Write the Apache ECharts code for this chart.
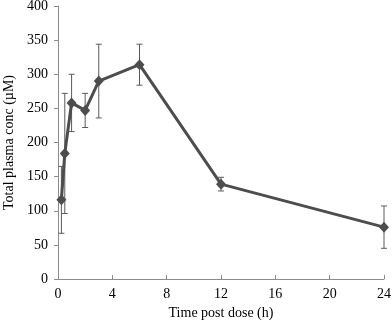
<!DOCTYPE html>
<html>
<head>
<meta charset="utf-8">
<script src="https://cdn.jsdelivr.net/npm/echarts@6/dist/echarts.min.js"></script>
<style>
  html, body { margin: 0; padding: 0; background: #fff; }
  #chart { width: 392px; height: 323px; }
</style>
</head>
<body>
<div id="chart"></div>
<script>
// 时间点 (h)
var timePoints = [0.25, 0.5, 1, 2, 3, 6, 12, 24];
// 平均浓度 (µM)
var meanConc = [116, 184, 258, 247, 290, 314, 139, 76];
// 误差 (±)
var errConc = [49, 88, 42, 25, 54, 30, 10, 31];
var xTicks = [0, 4, 8, 12, 16, 20, 24];
var yTicks = [0, 50, 100, 150, 200, 250, 300, 350, 400];

var lineData = timePoints.map(function (t, i) { return [t, meanConc[i]]; });
var errData = timePoints.map(function (t, i) {
  return [t, meanConc[i] - errConc[i], meanConc[i] + errConc[i]];
});

var chart = echarts.init(document.getElementById('chart'));
var font = 'Liberation Serif';

var option = {
  backgroundColor: '#fff',
  animation: false,
  grid: { left: 58, right: 8, top: 6, bottom: 44, containLabel: false, outerBoundsMode: 'none' },
  xAxis: {
    type: 'value',
    min: xTicks[0], max: xTicks[xTicks.length - 1], interval: 4,
    name: 'Time post dose (h)',
    nameLocation: 'middle',
    nameGap: 25,
    nameTextStyle: { fontFamily: font, fontSize: 14, color: '#000' },
    axisLine: { show: true, lineStyle: { color: '#8c8c8c', width: 1 } },
    axisTick: { show: true, inside: true, length: 4, lineStyle: { color: '#8c8c8c' } },
    axisLabel: { fontFamily: font, fontSize: 14, color: '#000', margin: 8 },
    splitLine: { show: false }
  },
  yAxis: {
    type: 'value',
    min: yTicks[0], max: yTicks[yTicks.length - 1], interval: 50,
    name: 'Total plasma conc (µM)',
    nameLocation: 'middle',
    nameGap: 42,
    nameTextStyle: { fontFamily: font, fontSize: 14, color: '#000' },
    axisLine: { show: true, lineStyle: { color: '#8c8c8c', width: 1 } },
    axisTick: { show: true, length: 4, lineStyle: { color: '#8c8c8c' } },
    axisLabel: { fontFamily: font, fontSize: 14, color: '#000', margin: 10 },
    splitLine: { show: false }
  },
  series: [
    {
      type: 'custom',
      name: 'err',
      data: errData,
      z: 1,
      renderItem: function (params, api) {
        var x = api.value(0);
        var lo = api.coord([x, api.value(1)]);
        var hi = api.coord([x, api.value(2)]);
        var hw = 3;
        var st = { stroke: '#5a5a5a', lineWidth: 1 };
        return {
          type: 'group',
          children: [
            { type: 'line', shape: { x1: lo[0], y1: lo[1], x2: hi[0], y2: hi[1] }, style: st },
            { type: 'line', shape: { x1: lo[0] - hw, y1: lo[1], x2: lo[0] + hw, y2: lo[1] }, style: st },
            { type: 'line', shape: { x1: hi[0] - hw, y1: hi[1], x2: hi[0] + hw, y2: hi[1] }, style: st }
          ]
        };
      }
    },
    {
      type: 'line',
      name: 'mean',
      data: lineData,
      z: 2,
      symbol: 'diamond',
      symbolSize: [10, 11],
      lineStyle: { color: '#4d4d4d', width: 3 },
      itemStyle: { color: '#4d4d4d' }
    }
  ]
};
chart.setOption(option);
</script>
</body>
</html>
